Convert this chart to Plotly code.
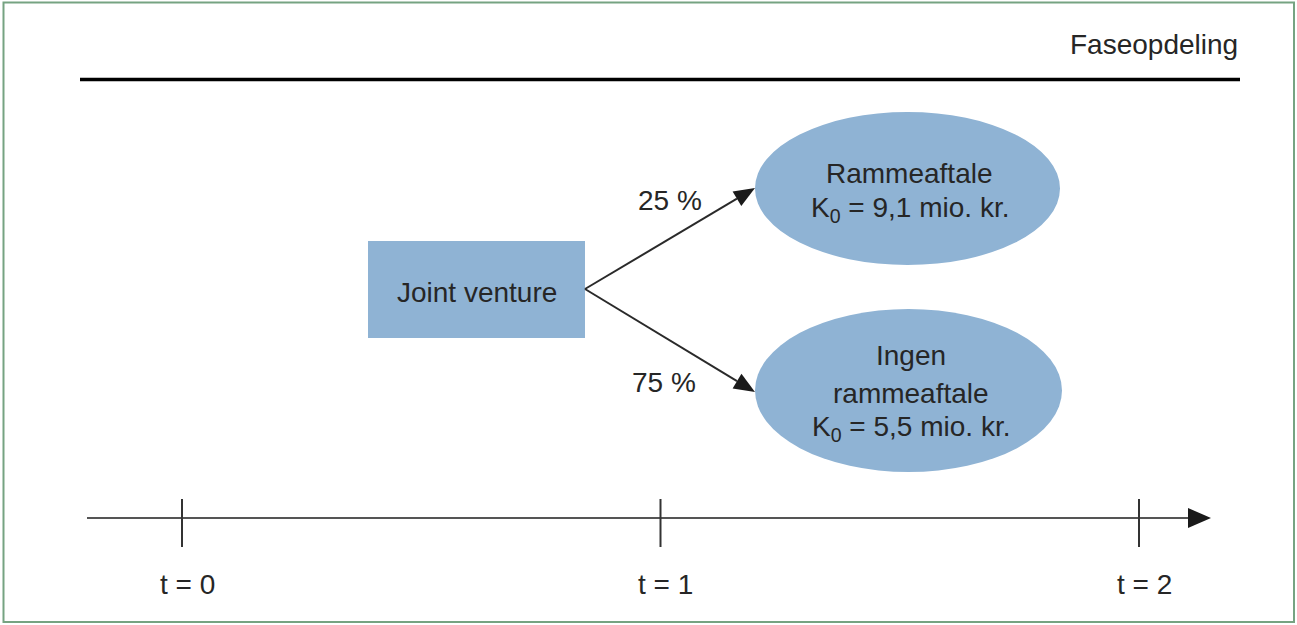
import math
import plotly.graph_objects as go

# ---------------- data ----------------
phase_title = "Faseopdeling"
time_values = [0, 1, 2]
time_labels = ["t = 0", "t = 1", "t = 2"]
root_label = "Joint venture"
branch_names = [["Rammeaftale"], ["Ingen", "rammeaftale"]]
branch_k0 = [9.1, 5.5]          # mio. kr.
branch_prob = [25, 75]          # %

# ---------------- layout constants (pixels) ----------------
W, H = 1297, 625
FONT = "Liberation Sans, Arial, sans-serif"
TXT = "#262626"
FILL = "#8fb3d4"
FS = 28

def t_to_x(t):
    return 182 + t * 478.5

root_box = dict(x0=368, x1=585, y0=241, y1=338)
root_port = (585, 289)
ellipses = [dict(x0=755, x1=1060, y0=112, y1=265),
            dict(x0=755, x1=1062, y0=309, y1=472)]
arrow_tips = [(755, 188), (755, 392)]
prob_pos = [(670, 200), (664, 382)]
axis_y = 518

shapes = []
ann = []

def font():
    return dict(size=FS, color=TXT, family=FONT)

# frame
shapes.append(dict(type="rect", x0=3.5, x1=1294, y0=2.5, y1=622,
                   line=dict(color="#76a382", width=2), fillcolor="rgba(0,0,0,0)"))
# header rule
shapes.append(dict(type="line", x0=80, x1=1240, y0=79.5, y1=79.5,
                   line=dict(color="#000000", width=3.5)))
ann.append(dict(x=1240, y=44, text=phase_title, xanchor="right", yanchor="middle",
                showarrow=False, font=font()))

# root box
shapes.append(dict(type="rect", **root_box, fillcolor=FILL, line=dict(width=0), layer="below"))
ann.append(dict(x=(root_box["x0"] + root_box["x1"]) / 2, y=292, text=root_label,
                showarrow=False, xanchor="center", yanchor="middle", font=font()))

def arrowhead(tip, frm, length=21, half=8.5):
    dx, dy = tip[0] - frm[0], tip[1] - frm[1]
    d = math.hypot(dx, dy)
    ux, uy = dx / d, dy / d
    bx, by = tip[0] - ux * length, tip[1] - uy * length
    px, py = -uy, ux
    p1 = (bx + px * half, by + py * half)
    p2 = (bx - px * half, by - py * half)
    return f"M {tip[0]} {tip[1]} L {p1[0]} {p1[1]} L {p2[0]} {p2[1]} Z", (bx, by)

for i, e in enumerate(ellipses):
    shapes.append(dict(type="circle", **e, fillcolor=FILL, line=dict(width=0), layer="below"))
    cx = (e["x0"] + e["x1"]) / 2
    lines = branch_names[i] + [f"K<sub>0</sub> = {branch_k0[i]:.1f}".replace(".", ",") + " mio. kr."]
    if len(lines) == 2:
        ys = [173, 209]
    else:
        ys = [355, 393, 428]
    for ln, yy in zip(lines, ys):
        ann.append(dict(x=cx + 2, y=yy, text=ln, showarrow=False, xanchor="center",
                        yanchor="middle", font=font()))
    # arrow
    path, base = arrowhead(arrow_tips[i], root_port)
    shapes.append(dict(type="line", x0=root_port[0], y0=root_port[1], x1=base[0], y1=base[1],
                       line=dict(color="#2a2a2a", width=2)))
    shapes.append(dict(type="path", path=path, fillcolor="#1a1a1a", line=dict(width=0)))
    ann.append(dict(x=prob_pos[i][0], y=prob_pos[i][1], text=f"{branch_prob[i]} %",
                    showarrow=False, xanchor="center", yanchor="middle", font=font()))

# time axis
shapes.append(dict(type="line", x0=87, x1=1190, y0=axis_y, y1=axis_y,
                   line=dict(color="#555555", width=2)))
shapes.append(dict(type="path",
                   path=f"M 1211 {axis_y} L 1188 {axis_y - 10} L 1188 {axis_y + 10} Z",
                   fillcolor="#1a1a1a", line=dict(width=0)))
for t, lab in zip(time_values, time_labels):
    x = t_to_x(t)
    shapes.append(dict(type="line", x0=x, x1=x, y0=499, y1=547,
                       line=dict(color="#333333", width=2)))
    ann.append(dict(x=x + 5, y=584, text=lab, showarrow=False, xanchor="center",
                    yanchor="middle", font=font()))

fig = go.Figure()
fig.add_trace(go.Scatter(x=[0, W], y=[0, H], mode="markers",
                         marker=dict(opacity=0), hoverinfo="skip", showlegend=False))
fig.update_layout(
    width=W, height=H, margin=dict(l=0, r=0, t=0, b=0),
    paper_bgcolor="white", plot_bgcolor="white",
    xaxis=dict(range=[0, W], visible=False, fixedrange=True),
    yaxis=dict(range=[H, 0], visible=False, fixedrange=True),
    shapes=shapes, annotations=ann, showlegend=False,
)
fig.write_html("out.html", config={"displayModeBar": False},
               post_script="document.body.style.margin='0';document.body.style.overflow='hidden';")
